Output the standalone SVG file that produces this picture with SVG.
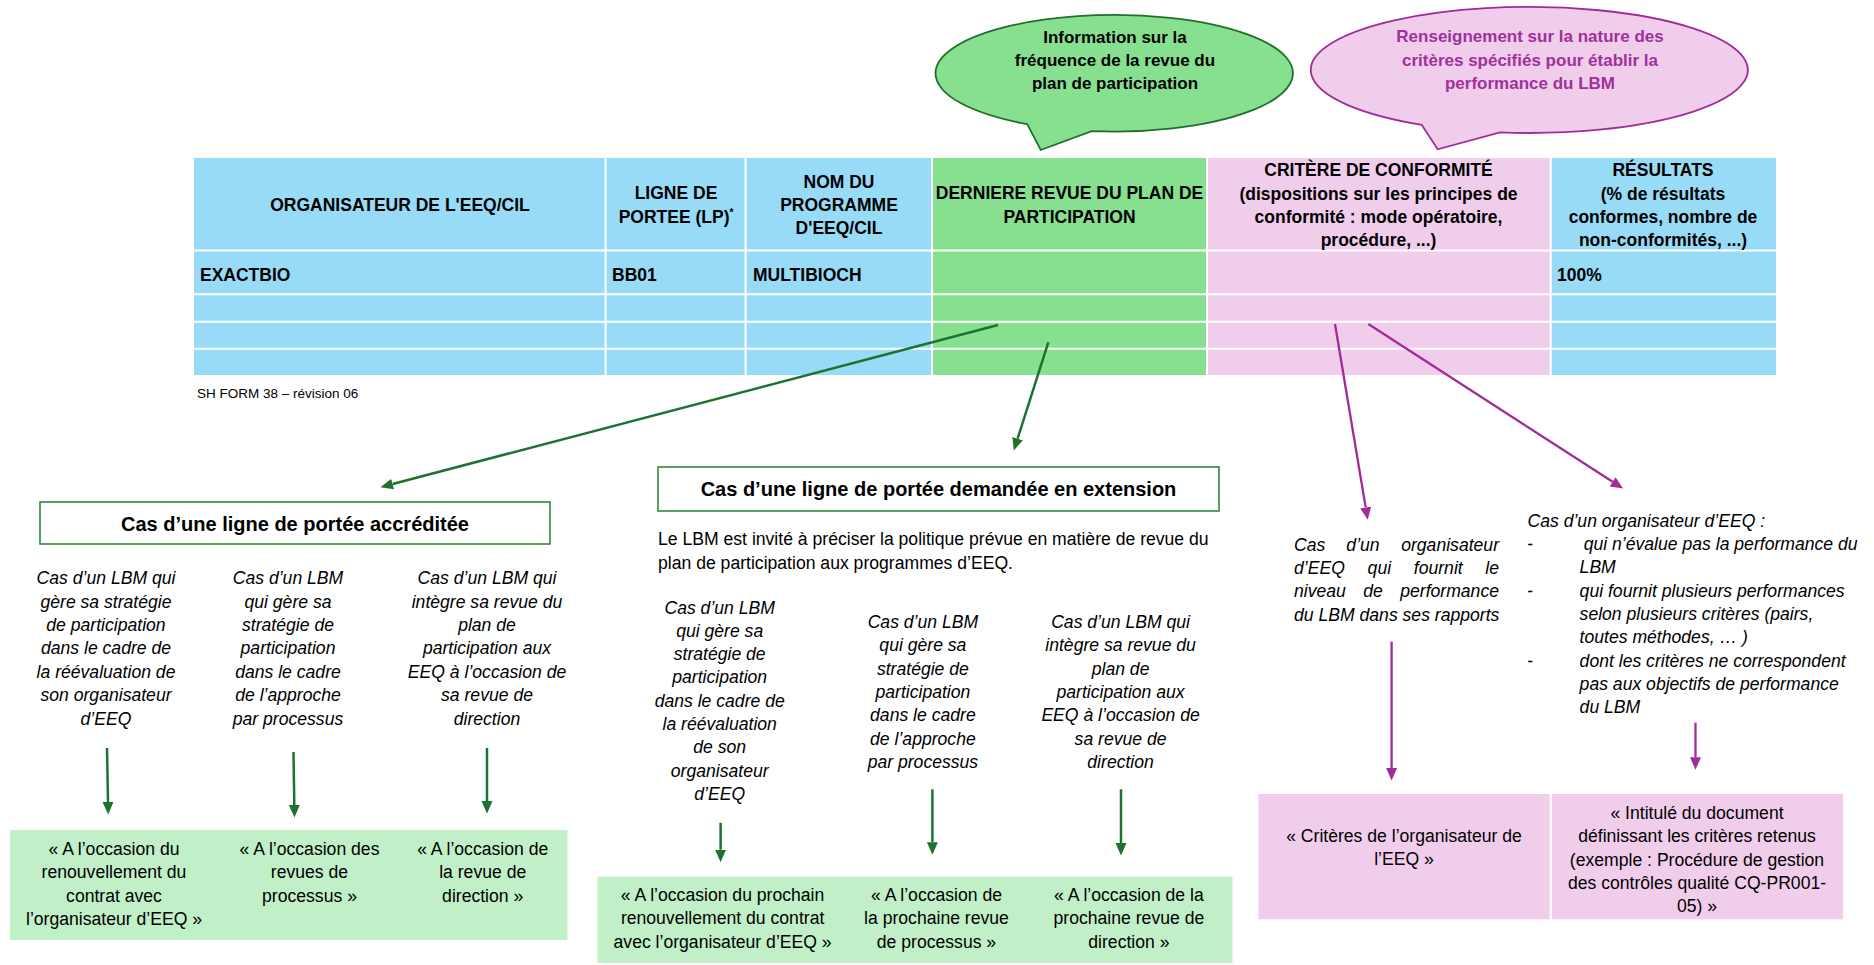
<svg xmlns="http://www.w3.org/2000/svg" width="1874" height="965" viewBox="0 0 1874 965">
<style>
text{font-family:"Liberation Sans",Arial,sans-serif;fill:#000}
.hdr{font-weight:bold;font-size:17.5px;text-anchor:middle}
.cell{font-weight:bold;font-size:17.5px}
.bub{font-weight:bold;font-size:17px;text-anchor:middle}
.bubp{font-weight:bold;font-size:17px;text-anchor:middle;fill:#A0309B}
.title{font-weight:bold;font-size:20px;text-anchor:middle}
.it{font-style:italic;font-size:17.6px;text-anchor:middle}
.itl{font-style:italic;font-size:17.6px}
.ite{font-style:italic;font-size:17.6px;text-anchor:end}
.reg{font-size:17.6px;text-anchor:middle}
.regl{font-size:17.6px}
.small{font-size:13.5px}
.gl{stroke:#1E7230;stroke-width:2.5;fill:none;marker-end:url(#ag)}
.pl{stroke:#A12C98;stroke-width:2.3;fill:none;marker-end:url(#ap)}
.sep{stroke:#fff;stroke-width:2}
.blue{fill:#97DBF7}
.green{fill:#86E090}
.pink{fill:#F1CDEC}
.tbox{fill:#fff;stroke:#2F8B3A;stroke-width:1.6}
</style>
<defs>
<marker id="ag" markerUnits="userSpaceOnUse" markerWidth="14" markerHeight="14" viewBox="0 0 14 14" refX="0" refY="7" orient="auto"><path d="M0,1.5 L12.5,7 L0,12.5 z" fill="#1E7230"/></marker>
<marker id="ap" markerUnits="userSpaceOnUse" markerWidth="14" markerHeight="14" viewBox="0 0 14 14" refX="0" refY="7" orient="auto"><path d="M0,1.5 L12.5,7 L0,12.5 z" fill="#A12C98"/></marker>
</defs>
<rect width="1874" height="965" fill="#fff"/>

<g id="bubble-frequence">
<path d="M1027.3,124.2 A178.7 58.3 0 1 1 1091.7,131.1 L1040.7,150 Z" fill="#86E090" stroke="#236E2C" stroke-width="1.8" stroke-linejoin="miter"/>
<text class="bub" x="1115" y="42.7">Information sur la</text>
<text class="bub" x="1115" y="66">fréquence de la revue du</text>
<text class="bub" x="1115" y="89.3">plan de participation</text>
</g>

<g id="bubble-criteres">
<path d="M1421.7,124.8 A218.5 63 0 1 1 1500,132.4 L1437.7,149.3 Z" fill="#F1CDEC" stroke="#A12C98" stroke-width="1.8"/>
<text class="bubp" x="1530" y="42">Renseignement sur la nature des</text>
<text class="bubp" x="1530" y="66">critères spécifiés pour établir la</text>
<text class="bubp" x="1530" y="89.3">performance du LBM</text>
</g>

<g id="table">
<rect class="blue" x="194" y="158" width="738" height="217"/>
<rect class="green" x="932" y="158" width="275" height="217"/>
<rect class="pink" x="1207" y="158" width="344" height="217"/>
<rect class="blue" x="1551" y="158" width="225" height="217"/>
<line class="sep" x1="194" y1="250.5" x2="1776" y2="250.5"/>
<line class="sep" x1="194" y1="294.3" x2="1776" y2="294.3"/>
<line class="sep" x1="194" y1="321.7" x2="1776" y2="321.7"/>
<line class="sep" x1="194" y1="348.7" x2="1776" y2="348.7"/>
<line class="sep" x1="605.6" y1="158" x2="605.6" y2="375"/>
<line class="sep" x1="745.6" y1="158" x2="745.6" y2="375"/>
<line class="sep" x1="932" y1="158" x2="932" y2="375" stroke-width="1.2"/>
<line class="sep" x1="1207" y1="158" x2="1207" y2="375"/>
<line class="sep" x1="1550.7" y1="158" x2="1550.7" y2="375"/>
<text class="hdr" x="400" y="211.3">ORGANISATEUR DE L'EEQ/CIL</text>
<text class="hdr" x="676" y="199.3">LIGNE DE</text>
<text class="hdr" x="676" y="223.3">PORTEE (LP)<tspan font-size="10" dy="-7">*</tspan></text>
<text class="hdr" x="839" y="188.3">NOM DU</text>
<text class="hdr" x="839" y="211.3">PROGRAMME</text>
<text class="hdr" x="839" y="234.3">D'EEQ/CIL</text>
<text class="hdr" x="1069.5" y="199.3">DERNIERE REVUE DU PLAN DE</text>
<text class="hdr" x="1069.5" y="223.3">PARTICIPATION</text>
<text class="hdr" x="1378.5" y="176.3">CRITÈRE DE CONFORMITÉ</text>
<text class="hdr" x="1378.5" y="199.6">(dispositions sur les principes de</text>
<text class="hdr" x="1378.5" y="223.3">conformité : mode opératoire,</text>
<text class="hdr" x="1378.5" y="246.3">procédure, ...)</text>
<text class="hdr" x="1663" y="176.3">RÉSULTATS</text>
<text class="hdr" x="1663" y="199.6">(% de résultats</text>
<text class="hdr" x="1663" y="223.3">conformes, nombre de</text>
<text class="hdr" x="1663" y="246.3">non-conformités, ...)</text>
<text class="cell" x="200" y="281.3">EXACTBIO</text>
<text class="cell" x="612" y="281.3">BB01</text>
<text class="cell" x="753" y="281.3">MULTIBIOCH</text>
<text class="cell" x="1557" y="281.3">100%</text>
</g>

<g id="form-ref">
<text class="small" x="197" y="398">SH FORM 38 – révision 06</text>
</g>

<g id="box-accreditee">
<rect class="tbox" x="40" y="502" width="510" height="42"/>
<text class="title" x="295" y="531">Cas d’une ligne de portée accréditée</text>
</g>

<g id="acc-case-1">
<text class="it" x="106" y="584.1">Cas d’un LBM qui</text>
<text class="it" x="106" y="607.5">gère sa stratégie</text>
<text class="it" x="106" y="630.9">de participation</text>
<text class="it" x="106" y="654.3">dans le cadre de</text>
<text class="it" x="106" y="677.7">la réévaluation de</text>
<text class="it" x="106" y="701.1">son organisateur</text>
<text class="it" x="106" y="724.5">d’EEQ</text>
</g>
<g id="acc-case-2">
<text class="it" x="288" y="584.1">Cas d’un LBM</text>
<text class="it" x="288" y="607.5">qui gère sa</text>
<text class="it" x="288" y="630.9">stratégie de</text>
<text class="it" x="288" y="654.3">participation</text>
<text class="it" x="288" y="677.7">dans le cadre</text>
<text class="it" x="288" y="701.1">de l’approche</text>
<text class="it" x="288" y="724.5">par processus</text>
</g>
<g id="acc-case-3">
<text class="it" x="487" y="584.1">Cas d’un LBM qui</text>
<text class="it" x="487" y="607.5">intègre sa revue du</text>
<text class="it" x="487" y="630.9">plan de</text>
<text class="it" x="487" y="654.3">participation aux</text>
<text class="it" x="487" y="677.7">EEQ à l’occasion de</text>
<text class="it" x="487" y="701.1">sa revue de</text>
<text class="it" x="487" y="724.5">direction</text>
</g>

<g id="acc-results">
<rect x="10" y="830" width="557.5" height="110" fill="#C1EFC8"/>
<text class="reg" x="114" y="855">« A l’occasion du</text>
<text class="reg" x="114" y="878.3">renouvellement du</text>
<text class="reg" x="114" y="901.7">contrat avec</text>
<text class="reg" x="114" y="925">l’organisateur d’EEQ »</text>
<text class="reg" x="309.5" y="855">« A l’occasion des</text>
<text class="reg" x="309.5" y="878.3">revues de</text>
<text class="reg" x="309.5" y="901.7">processus »</text>
<text class="reg" x="482.7" y="855">« A l’occasion de</text>
<text class="reg" x="482.7" y="878.3">la revue de</text>
<text class="reg" x="482.7" y="901.7">direction »</text>
</g>

<g id="box-extension">
<rect class="tbox" x="658" y="467" width="561" height="44"/>
<text class="title" x="938.5" y="496.2">Cas d’une ligne de portée demandée en extension</text>
</g>

<g id="ext-intro">
<text class="regl" x="658" y="545.1">Le LBM est invité à préciser la politique prévue en matière de revue du</text>
<text class="regl" x="658" y="569.1">plan de participation aux programmes d’EEQ.</text>
</g>

<g id="ext-case-1">
<text class="it" x="719.7" y="613.5">Cas d’un LBM</text>
<text class="it" x="719.7" y="636.8">qui gère sa</text>
<text class="it" x="719.7" y="660.1">stratégie de</text>
<text class="it" x="719.7" y="683.4">participation</text>
<text class="it" x="719.7" y="706.7">dans le cadre de</text>
<text class="it" x="719.7" y="730">la réévaluation</text>
<text class="it" x="719.7" y="753.3">de son</text>
<text class="it" x="719.7" y="776.6">organisateur</text>
<text class="it" x="719.7" y="799.9">d’EEQ</text>
</g>
<g id="ext-case-2">
<text class="it" x="922.9" y="628.1">Cas d’un LBM</text>
<text class="it" x="922.9" y="651.4">qui gère sa</text>
<text class="it" x="922.9" y="674.7">stratégie de</text>
<text class="it" x="922.9" y="698">participation</text>
<text class="it" x="922.9" y="721.3">dans le cadre</text>
<text class="it" x="922.9" y="744.6">de l’approche</text>
<text class="it" x="922.9" y="767.9">par processus</text>
</g>
<g id="ext-case-3">
<text class="it" x="1120.6" y="628.1">Cas d’un LBM qui</text>
<text class="it" x="1120.6" y="651.4">intègre sa revue du</text>
<text class="it" x="1120.6" y="674.7">plan de</text>
<text class="it" x="1120.6" y="698">participation aux</text>
<text class="it" x="1120.6" y="721.3">EEQ à l’occasion de</text>
<text class="it" x="1120.6" y="744.6">sa revue de</text>
<text class="it" x="1120.6" y="767.9">direction</text>
</g>

<g id="ext-results">
<rect x="597.5" y="876.7" width="635" height="86.3" fill="#C1EFC8"/>
<text class="reg" x="722.6" y="901">« A l’occasion du prochain</text>
<text class="reg" x="722.6" y="924.3">renouvellement du contrat</text>
<text class="reg" x="722.6" y="948">avec l’organisateur d’EEQ »</text>
<text class="reg" x="936.5" y="901">« A l’occasion de</text>
<text class="reg" x="936.5" y="924.3">la prochaine revue</text>
<text class="reg" x="936.5" y="948">de processus »</text>
<text class="reg" x="1128.9" y="901">« A l’occasion de la</text>
<text class="reg" x="1128.9" y="924.3">prochaine revue de</text>
<text class="reg" x="1128.9" y="948">direction »</text>
</g>

<g id="crit-case-1">
<text class="itl" x="1294" y="550.8">Cas</text>
<text class="it" x="1363" y="550.8">d’un</text>
<text class="ite" x="1499" y="550.8">organisateur</text>
<text class="itl" x="1294" y="574.1">d’EEQ</text>
<text class="itl" x="1367.6" y="574.1">qui</text>
<text class="itl" x="1413.8" y="574.1">fournit</text>
<text class="ite" x="1499" y="574.1">le</text>
<text class="itl" x="1294" y="597.4">niveau</text>
<text class="itl" x="1363.2" y="597.4">de</text>
<text class="ite" x="1499" y="597.4">performance</text>
<text class="itl" x="1294" y="620.7">du LBM dans ses rapports</text>
</g>

<g id="crit-case-2">
<text class="itl" x="1527.5" y="526.5">Cas d’un organisateur d’EEQ :</text>
<text class="itl" x="1527" y="550.1">-</text>
<text class="itl" x="1583.7" y="550.1">qui n’évalue pas la performance du</text>
<text class="itl" x="1579.6" y="573.1">LBM</text>
<text class="itl" x="1527" y="596.8">-</text>
<text class="itl" x="1579.6" y="596.8">qui fournit plusieurs performances</text>
<text class="itl" x="1579.6" y="619.8">selon plusieurs critères (pairs,</text>
<text class="itl" x="1579.6" y="642.5">toutes méthodes, … )</text>
<text class="itl" x="1527" y="666.8">-</text>
<text class="itl" x="1579.6" y="666.8">dont les critères ne correspondent</text>
<text class="itl" x="1579.6" y="689.8">pas aux objectifs de performance</text>
<text class="itl" x="1579.6" y="712.5">du LBM</text>
</g>

<g id="crit-result-1">
<rect class="pink" x="1258.4" y="794" width="291.3" height="125.3"/>
<text class="reg" x="1404" y="841.8">« Critères de l’organisateur de</text>
<text class="reg" x="1404" y="865.1">l’EEQ »</text>
</g>
<g id="crit-result-2">
<rect class="pink" x="1552" y="794" width="291" height="125.3"/>
<text class="reg" x="1697" y="818.5">« Intitulé du document</text>
<text class="reg" x="1697" y="841.8">définissant les critères retenus</text>
<text class="reg" x="1697" y="865.8">(exemple : Procédure de gestion</text>
<text class="reg" x="1697" y="889.1">des contrôles qualité CQ-PR001-</text>
<text class="reg" x="1697" y="912.4">05) »</text>
</g>

<g id="connectors">
<line class="gl" x1="998" y1="325" x2="392.6" y2="484"/>
<line class="gl" x1="1048.3" y1="342.3" x2="1017.6" y2="438.6"/>
<line class="pl" x1="1335" y1="324" x2="1365.7" y2="507.5"/>
<line class="pl" x1="1368.3" y1="324" x2="1612.6" y2="481.8"/>
<line class="gl" x1="107" y1="748" x2="108" y2="802" stroke-width="2.3"/>
<line class="gl" x1="293.5" y1="752" x2="294.3" y2="805" stroke-width="2.3"/>
<line class="gl" x1="487" y1="748" x2="487" y2="801" stroke-width="2.3"/>
<line class="gl" x1="720.6" y1="822.7" x2="720.6" y2="849.7" stroke-width="2.3"/>
<line class="gl" x1="932.4" y1="789.3" x2="932.4" y2="842.3" stroke-width="2.3"/>
<line class="gl" x1="1121" y1="789.3" x2="1121" y2="843" stroke-width="2.3"/>
<line class="pl" x1="1391.6" y1="641.7" x2="1391.6" y2="768"/>
<line class="pl" x1="1695.5" y1="722.7" x2="1695.5" y2="757.3"/>
</g>
</svg>
